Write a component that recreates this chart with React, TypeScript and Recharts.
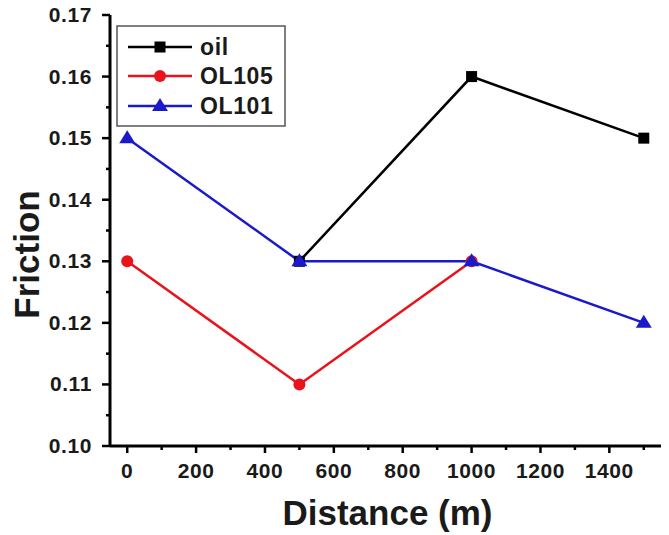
import React from 'react';
import { LineChart, Line, XAxis, YAxis, Customized } from 'recharts';

const distances = [0, 500, 1000, 1500];
const oilValues: (number | null)[] = [null, 0.13, 0.16, 0.15];
const ol105Values: (number | null)[] = [0.13, 0.11, 0.13, null];
const ol101Values = [0.15, 0.13, 0.13, 0.12];

const xTicks = [0, 100, 200, 300, 400, 500, 600, 700, 800, 900, 1000, 1100, 1200, 1300, 1400, 1500];
const xLabelTicks = [0, 200, 400, 600, 800, 1000, 1200, 1400];
const yTicks = [0.1, 0.105, 0.11, 0.115, 0.12, 0.125, 0.13, 0.135, 0.14, 0.145, 0.15, 0.155, 0.16, 0.165, 0.17];
const yLabelTicks = [0.1, 0.11, 0.12, 0.13, 0.14, 0.15, 0.16, 0.17];

const seriesNames = ['oil', 'OL105', 'OL101'];
const seriesColors = ['#000000', '#e8131b', '#1a1acb'];

const data = distances.map((d, i) => ({
  d,
  oil: oilValues[i],
  ol105: ol105Values[i],
  ol101: ol101Values[i],
}));

const FONT = '"Liberation Sans", Arial, Helvetica, sans-serif';

const isXMajor = (v: number) => xLabelTicks.includes(v);
const isYMajor = (v: number) => yLabelTicks.some((t) => Math.abs(t - v) < 1e-6);

const BottomTick = (props: any) => {
  const { x, y, payload } = props;
  const major = isXMajor(payload.value);
  return (
    <g>
      <line x1={x} x2={x} y1={y} y2={y + (major ? 7 : 4)} stroke="#000" strokeWidth={2.5} />
      {major && (
        <text x={x} y={y + 32} textAnchor="middle" fontFamily={FONT} fontWeight="bold" fontSize={21} letterSpacing={0.6} fill="#1a1a1a">
          {payload.value}
        </text>
      )}
    </g>
  );
};

const TopTick = (props: any) => {
  const { x, y, payload } = props;
  const major = isXMajor(payload.value);
  return <line x1={x} x2={x} y1={y} y2={y + (major ? 8 : 4)} stroke="#000" strokeWidth={2.5} />;
};

const LeftTick = (props: any) => {
  const { x, y, payload } = props;
  const major = isYMajor(payload.value);
  return (
    <g>
      <line x1={x - (major ? 8 : 4)} x2={x} y1={y} y2={y} stroke="#000" strokeWidth={2.5} />
      {major && (
        <text x={x - 18} y={y + 7} textAnchor="end" fontFamily={FONT} fontWeight="bold" fontSize={21} letterSpacing={0.6} fill="#1a1a1a">
          {Number(payload.value).toFixed(2)}
        </text>
      )}
    </g>
  );
};

const RightTick = (props: any) => {
  const { x, y, payload } = props;
  const major = isYMajor(payload.value);
  return <line x1={x - (major ? 7 : 4)} x2={x} y1={y} y2={y} stroke="#000" strokeWidth={2.5} />;
};

const Marker = ({ kind, cx, cy, color }: { kind: number; cx: number; cy: number; color: string }) => {
  if (kind === 0) return <rect x={cx - 5.5} y={cy - 5.5} width={11} height={11} fill={color} />;
  if (kind === 1) return <circle cx={cx} cy={cy} r={6} fill={color} />;
  return <polygon points={`${cx},${cy - 8} ${cx + 8},${cy + 5} ${cx - 8},${cy + 5}`} fill={color} />;
};

const makeDot = (kind: number) => (props: any) => {
  const { cx, cy, index, value } = props;
  if (cx == null || cy == null || value == null) return <g key={`e-${kind}-${index}`} />;
  return (
    <g key={`m-${kind}-${index}`}>
      <Marker kind={kind} cx={cx} cy={cy} color={seriesColors[kind]} />
    </g>
  );
};

const LegendBox = () => {
  const bx = 117;
  const by = 26;
  const rows = [47, 76, 106];
  return (
    <g>
      <rect x={bx} y={by} width={168} height={100} fill="#fff" stroke="#555" strokeWidth={1.5} />
      {seriesNames.map((name, i) => (
        <g key={name}>
          <line x1={128} x2={192} y1={rows[i]} y2={rows[i]} stroke={seriesColors[i]} strokeWidth={2.5} />
          <Marker kind={i} cx={160} cy={rows[i]} color={seriesColors[i]} />
          <text x={200} y={rows[i] + 8} fontFamily={FONT} fontWeight="bold" fontSize={23} letterSpacing={0.6} fill="#1a1a1a">
            {name}
          </text>
        </g>
      ))}
    </g>
  );
};

const XTitle = (props: any) => {
  const vb = props.viewBox || { x: 110, y: 446, width: 551, height: 89 };
  return (
    <text x={vb.x + vb.width / 2 + 2} y={vb.y + 79} textAnchor="middle" fontFamily={FONT} fontWeight="bold" fontSize={35} fill="#1a1a1a">
      Distance (m)
    </text>
  );
};

const YTitle = (props: any) => {
  const vb = props.viewBox || { x: 0, y: 15, width: 110, height: 431 };
  const cx = 39;
  const cy = vb.y + vb.height / 2 + 24;
  return (
    <text x={cx} y={cy} transform={`rotate(-90, ${cx}, ${cy})`} textAnchor="middle" fontFamily={FONT} fontWeight="bold" fontSize={35} fill="#1a1a1a">
      Friction
    </text>
  );
};

export default function App() {
  return (
    <div style={{ position: 'absolute', left: 0, top: 0, width: 669, height: 535, background: '#fff' }}>
      <LineChart width={669} height={535} data={data} margin={{ top: 15, right: 8, bottom: 0, left: 0 }}>
        <XAxis
          xAxisId="bottom"
          dataKey="d"
          type="number"
          domain={[-50, 1550]}
          ticks={xTicks}
          interval={0}
          allowDataOverflow
          height={89}
          tickSize={0}
          tickMargin={0}
          tickLine={false}
          axisLine={{ stroke: '#000', strokeWidth: 3 }}
          tick={<BottomTick />}
          label={{ content: <XTitle /> }}
        />
        <XAxis
          xAxisId="top"
          orientation="top"
          dataKey="d"
          type="number"
          domain={[-50, 1550]}
          ticks={xTicks}
          interval={0}
          allowDataOverflow
          height={0}
          tickSize={0}
          tickMargin={0}
          tickLine={false}
          axisLine={{ stroke: '#000', strokeWidth: 3 }}
          tick={<TopTick />}
        />
        <YAxis
          yAxisId="left"
          type="number"
          domain={[0.1, 0.17]}
          ticks={yTicks}
          interval={0}
          allowDataOverflow
          width={110}
          tickSize={0}
          tickMargin={0}
          tickLine={false}
          axisLine={{ stroke: '#000', strokeWidth: 3 }}
          tick={<LeftTick />}
          label={{ content: <YTitle /> }}
        />
        <YAxis
          yAxisId="right"
          orientation="right"
          type="number"
          domain={[0.1, 0.17]}
          ticks={yTicks}
          interval={0}
          allowDataOverflow
          width={0}
          tickSize={0}
          tickMargin={0}
          tickLine={false}
          axisLine={{ stroke: '#000', strokeWidth: 3 }}
          tick={<RightTick />}
        />
        <Line xAxisId="bottom" yAxisId="left" dataKey="oil" stroke={seriesColors[0]} strokeWidth={2.5} dot={makeDot(0)} activeDot={false} isAnimationActive={false} connectNulls={false} />
        <Line xAxisId="bottom" yAxisId="left" dataKey="ol105" stroke={seriesColors[1]} strokeWidth={2.5} dot={makeDot(1)} activeDot={false} isAnimationActive={false} connectNulls={false} />
        <Line xAxisId="bottom" yAxisId="left" dataKey="ol101" stroke={seriesColors[2]} strokeWidth={2.5} dot={makeDot(2)} activeDot={false} isAnimationActive={false} connectNulls={false} />
        <Customized component={LegendBox} />
      </LineChart>
    </div>
  );
}
